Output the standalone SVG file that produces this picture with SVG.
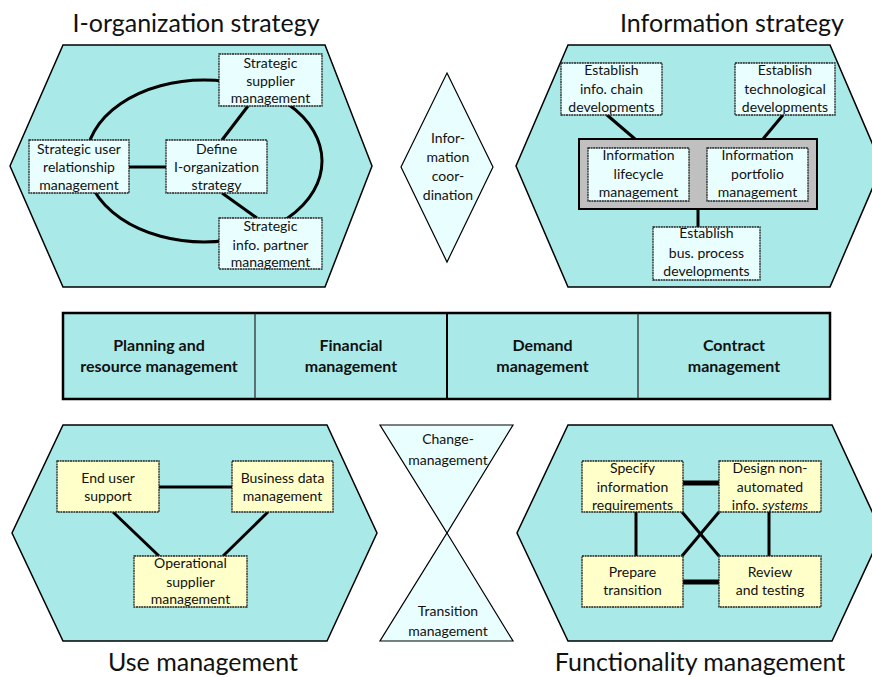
<svg xmlns="http://www.w3.org/2000/svg" width="872" height="677" viewBox="0 0 872 677">
<style>
.hex{fill:#A9EAE8;stroke:#000;stroke-width:1.5}
.bx{fill:#E9FEFE;stroke:#222;stroke-width:1.3;stroke-dasharray:2 0.6}
.yb{fill:#FFFFC9;stroke:#222;stroke-width:1.3;stroke-dasharray:2 0.6}
.lt{fill:#E9FEFE;stroke:#000;stroke-width:1.2}
.t{font-family:Lato,"Open Sans",sans-serif;font-size:14px;fill:#111;text-anchor:middle}
.b{font-family:Lato,"Open Sans",sans-serif;font-size:16px;font-weight:bold;fill:#111;text-anchor:middle}
.h{font-family:Lato,"Open Sans",sans-serif;font-size:25px;fill:#111;text-anchor:middle}
.c{stroke:#000;stroke-width:3;fill:none}
.ct{stroke:#000;stroke-width:5;fill:none}
</style>
<rect width="872" height="677" fill="#fff"/>
<g id="hex-iorg"><polygon class="hex" points="63,45 325,45 372,166 325,287 63,287 10,166"/><text class="h" x="196" y="32">I-organization strategy</text></g>
<g id="hex-info"><polygon class="hex" points="568,45 830,45 882,166 830,287 568,287 516,166"/><text class="h" x="732" y="32">Information strategy</text></g>
<g id="hex-use"><polygon class="hex" points="63,425 327,425 377,533 327,641 63,641 12,533"/><text class="h" x="203" y="671">Use management</text></g>
<g id="hex-func"><polygon class="hex" points="568,425 832,425 882,533 832,641 568,641 517,533"/><text class="h" x="700" y="671">Functionality management</text></g>
<g id="connectors">
<ellipse class="c" cx="204" cy="161" rx="118" ry="81"/>
<line class="c" x1="129" y1="167" x2="166" y2="167"/>
<line class="c" x1="222" y1="140" x2="248" y2="106"/>
<line class="c" x1="222" y1="193" x2="257" y2="218"/>
<line class="c" x1="607" y1="115" x2="635" y2="139"/>
<line class="c" x1="783" y1="115" x2="763" y2="139"/>
<line class="c" x1="698" y1="209" x2="698" y2="227"/>
<line class="c" x1="159" y1="487" x2="232" y2="487"/>
<line class="c" x1="113" y1="512" x2="159" y2="556"/>
<line class="c" x1="268" y1="512" x2="223" y2="556"/>
<line class="ct" x1="683" y1="483" x2="719" y2="483"/>
<line class="ct" x1="683" y1="582" x2="719" y2="582"/>
<line class="c" x1="636" y1="512" x2="636" y2="556"/>
<line class="c" x1="769" y1="512" x2="769" y2="556"/>
<line class="c" x1="682" y1="512" x2="719" y2="556"/>
<line class="c" x1="719" y1="512" x2="682" y2="556"/>
</g>
<g id="supplier"><rect class="bx" x="219" y="54" width="103" height="52"/><text class="t" x="270.5" y="68">Strategic</text><text class="t" x="270.5" y="86">supplier</text><text class="t" x="270.5" y="103">management</text></g>
<g id="userrel"><rect class="bx" x="29" y="140" width="100" height="53"/><text class="t" x="79" y="154">Strategic user</text><text class="t" x="79" y="172">relationship</text><text class="t" x="79" y="190">management</text></g>
<g id="define"><rect class="bx" x="166" y="140" width="101" height="53"/><text class="t" x="216.5" y="154">Define</text><text class="t" x="216.5" y="172">I-organization</text><text class="t" x="216.5" y="190">strategy</text></g>
<g id="partner"><rect class="bx" x="219" y="218" width="103" height="51"/><text class="t" x="270.5" y="231">Strategic</text><text class="t" x="270.5" y="250">info. partner</text><text class="t" x="270.5" y="267">management</text></g>
<g id="infochain"><rect class="bx" x="561" y="63" width="101" height="52"/><text class="t" x="611.5" y="75">Establish</text><text class="t" x="611.5" y="94">info. chain</text><text class="t" x="611.5" y="112">developments</text></g>
<g id="techdev"><rect class="bx" x="735" y="63" width="100" height="52"/><text class="t" x="785" y="75">Establish</text><text class="t" x="785" y="94">technological</text><text class="t" x="785" y="112">developments</text></g>
<g id="infogroup"><rect x="579" y="139" width="238" height="70" fill="#C0C0C0" stroke="#000" stroke-width="2"/></g>
<g id="lifecycle"><rect class="bx" x="588" y="148" width="101" height="53"/><text class="t" x="638.5" y="160">Information</text><text class="t" x="638.5" y="179">lifecycle</text><text class="t" x="638.5" y="197">management</text></g>
<g id="portfolio"><rect class="bx" x="707" y="148" width="101" height="53"/><text class="t" x="757.5" y="160">Information</text><text class="t" x="757.5" y="179">portfolio</text><text class="t" x="757.5" y="197">management</text></g>
<g id="busproc"><rect class="bx" x="653" y="227" width="107" height="53"/><text class="t" x="706.5" y="238">Establish</text><text class="t" x="706.5" y="258">bus. process</text><text class="t" x="706.5" y="276">developments</text></g>
<g id="coordination"><polygon class="lt" points="447,73 493,167 447,262 401,167"/><text class="t" x="448" y="143">Infor-</text><text class="t" x="448" y="162">mation</text><text class="t" x="448" y="181">coor-</text><text class="t" x="448" y="200">dination</text></g>
<g id="bar">
<rect x="63" y="313" width="767" height="86" fill="#A9EAE8" stroke="#000" stroke-width="2.5"/>
<line x1="255" y1="313" x2="255" y2="399" stroke="#222" stroke-width="1.2"/>
<line x1="447" y1="313" x2="447" y2="399" stroke="#000" stroke-width="2"/>
<line x1="638" y1="313" x2="638" y2="399" stroke="#222" stroke-width="1.2"/>
<text class="b" x="159" y="351">Planning and</text><text class="b" x="159" y="372">resource management</text>
<text class="b" x="351" y="351">Financial</text><text class="b" x="351" y="372">management</text>
<text class="b" x="542.5" y="351">Demand</text><text class="b" x="542.5" y="372">management</text>
<text class="b" x="734" y="351">Contract</text><text class="b" x="734" y="372">management</text>
</g>
<g id="enduser"><rect class="yb" x="57" y="461" width="102" height="51"/><text class="t" x="108" y="483">End user</text><text class="t" x="108" y="501">support</text></g>
<g id="busdata"><rect class="yb" x="232" y="461" width="101" height="51"/><text class="t" x="282.5" y="483">Business data</text><text class="t" x="282.5" y="501">management</text></g>
<g id="opsupplier"><rect class="yb" x="134" y="556" width="113" height="51"/><text class="t" x="190.5" y="568">Operational</text><text class="t" x="190.5" y="587">supplier</text><text class="t" x="190.5" y="604">management</text></g>
<g id="change"><polygon class="lt" points="380,425 513,425 447,533"/><text class="t" x="448" y="444">Change-</text><text class="t" x="448" y="465">management</text></g>
<g id="transition"><polygon class="lt" points="447,533 513,641 380,641"/><text class="t" x="448" y="616">Transition</text><text class="t" x="448" y="636">management</text></g>
<g id="specify"><rect class="yb" x="582" y="461" width="101" height="51"/><text class="t" x="632.5" y="473">Specify</text><text class="t" x="632.5" y="492">information</text><text class="t" x="632.5" y="510">requirements</text></g>
<g id="design"><rect class="yb" x="719" y="461" width="102" height="51"/><text class="t" x="770" y="473">Design non-</text><text class="t" x="770" y="492">automated</text><text class="t" x="770" y="510">info. <tspan font-style="italic">systems</tspan></text></g>
<g id="prepare"><rect class="yb" x="582" y="556" width="101" height="51"/><text class="t" x="632.5" y="577">Prepare</text><text class="t" x="632.5" y="595">transition</text></g>
<g id="review"><rect class="yb" x="719" y="556" width="102" height="51"/><text class="t" x="770" y="577">Review</text><text class="t" x="770" y="595">and testing</text></g>
</svg>
